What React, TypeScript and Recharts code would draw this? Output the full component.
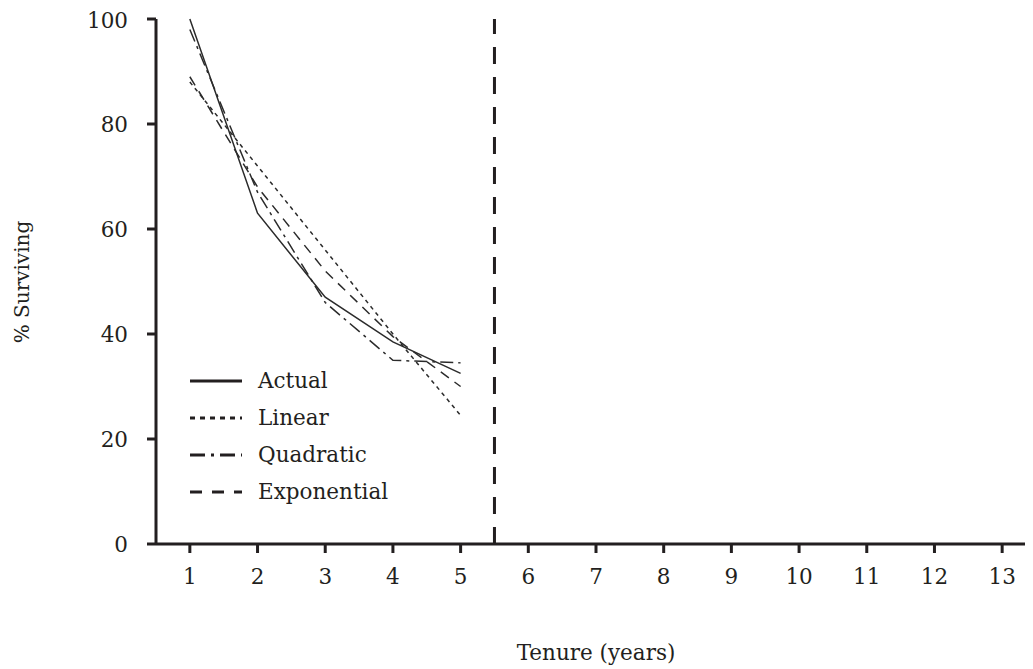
import React from 'react'
import { LineChart, Line, XAxis, YAxis, ReferenceLine, Legend } from 'recharts'

const tenure = [1, 2, 3, 4, 5]
const actual = [100, 63, 47, 38.5, 32.5]
const linear = [88, 72, 56, 40, 24.5]
const quadratic = [98, 67, 46, 35, 34.5]
const exponential = [89, 68, 52, 39.5, 30]
const xTicks = [1, 2, 3, 4, 5, 6, 7, 8, 9, 10, 11, 12, 13]
const yTicks = [0, 20, 40, 60, 80, 100]
const cutoff = 5.5

const FONT = '"DejaVu Serif", serif'
const INK = '#231f20'

const rows = tenure.map((t, i) => ({
  tenure: t,
  Actual: actual[i],
  Linear: linear[i],
  Quadratic: quadratic[i],
  Exponential: exponential[i],
}))

const series = [
  { key: 'Actual', dash: undefined, legendDash: undefined },
  { key: 'Linear', dash: '4 4', legendDash: '5 5' },
  { key: 'Quadratic', dash: '13 5 3 5', legendDash: '15 6 3 6' },
  { key: 'Exponential', dash: '10 7', legendDash: '12 10' },
]

function LegendBox() {
  return (
    <div style={{ fontFamily: FONT, fontSize: 21.5, color: INK }}>
      {series.map((s) => (
        <div key={s.key} style={{ display: 'flex', alignItems: 'center', height: 37 }}>
          <svg width={52} height={10} style={{ marginRight: 16 }}>
            <line x1={0} y1={5} x2={52} y2={5} stroke={INK} strokeWidth={3} strokeDasharray={s.legendDash} />
          </svg>
          <span>{s.key}</span>
        </div>
      ))}
    </div>
  )
}

function YTitle() {
  return (
    <text
      x={14}
      y={274}
      transform="rotate(-90 14 274)"
      textAnchor="middle"
      dominantBaseline="central"
      fontFamily={FONT}
      fontSize={20}
      fill={INK}
    >
      % Surviving
    </text>
  )
}

export default function App() {
  const tick = { fontFamily: FONT, fontSize: 21.5, fill: INK }
  return (
    <div style={{ width: 1040, height: 661, position: 'relative' }}>
      <style>{'html, body { overflow: hidden; }'}</style>
      <LineChart width={1040} height={661} data={rows} margin={{ top: 11, right: 12, left: 0, bottom: 65 }}>
        <XAxis
          dataKey="tenure"
          type="number"
          domain={[0.5, 13.5]}
          ticks={xTicks}
          allowDataOverflow
          height={60}
          stroke={INK}
          strokeWidth={3}
          tickSize={9}
          tickMargin={16}
          tick={tick}
          tickLine={{ stroke: INK, strokeWidth: 3 }}
          label={{ value: 'Tenure (years)', position: 'bottom', offset: 41, style: { fontFamily: FONT, fontSize: 21.5, fill: INK } }}
        />
        <YAxis
          type="number"
          domain={[0, 100]}
          ticks={yTicks}
          width={148}
          stroke={INK}
          strokeWidth={3}
          tickSize={9}
          tickMargin={19}
          tick={tick}
          tickLine={{ stroke: INK, strokeWidth: 3 }}
          label={{ content: () => <YTitle /> }}
        />
        <ReferenceLine x={cutoff} stroke={INK} strokeWidth={3} strokeDasharray="17 13" />
        {series.map((s) => (
          <Line
            key={s.key}
            type="linear"
            dataKey={s.key}
            stroke="#2b2b2b"
            strokeWidth={1.5}
            strokeDasharray={s.dash}
            dot={false}
            activeDot={false}
            isAnimationActive={false}
          />
        ))}
        <Legend
          layout="vertical"
          align="center"
          verticalAlign="middle"
          content={() => <LegendBox />}
          wrapperStyle={{ left: 182, top: 354, width: 'auto' }}
        />
      </LineChart>
    </div>
  )
}
